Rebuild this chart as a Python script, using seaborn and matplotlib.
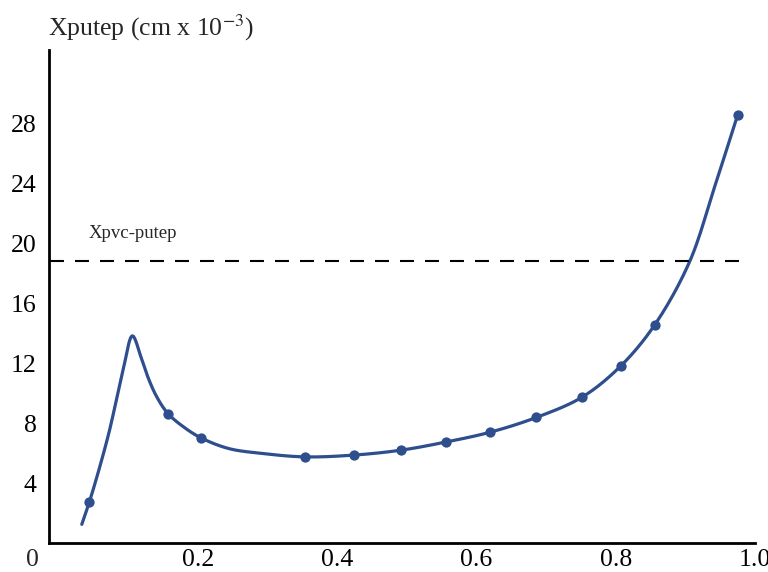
import numpy as np
import pandas as pd
import seaborn as sns
import matplotlib.pyplot as plt

# marker points
marker_x = [0.044, 0.157, 0.204, 0.354, 0.424, 0.492, 0.556, 0.620, 0.686, 0.752, 0.807, 0.856, 0.975]
marker_y = [2.73, 8.66, 7.05, 5.77, 5.89, 6.22, 6.76, 7.42, 8.40, 9.76, 11.82, 14.57, 28.55]

# traced points of the smooth curve (markers + points in between)
curve_x = [0.0333, 0.044, 0.0714, 0.093, 0.106, 0.119, 0.129, 0.141,
           0.157, 0.180, 0.204, 0.244, 0.292, 0.354, 0.424, 0.492, 0.556, 0.620, 0.686, 0.752,
           0.807, 0.856, 0.906, 0.942, 0.975]
curve_y = [1.27, 2.73, 7.22, 11.67, 13.84, 12.33, 11.0, 9.77,
           8.66, 7.75, 7.05, 6.33, 6.0, 5.77, 5.89, 6.22, 6.76, 7.42, 8.40, 9.76,
           11.82, 14.57, 18.77, 23.77, 28.55]

hline_y = 18.85
hline_label = "Xpvc-putep"
y_ticks = [4, 8, 12, 16, 20, 24, 28]
x_ticks = [0.2, 0.4, 0.6, 0.8, 1.0]

XLIM = (-0.0138, 1.0)
YLIM = (0, 32.9)


def smooth_path(xs, ys, n=20):
    # centripetal catmull-rom through the traced points, only for drawing a smooth stroke
    sx, sy = 700.0 / (XLIM[1] - XLIM[0]), 493.0 / (YLIM[1] - YLIM[0])
    p = np.column_stack([np.asarray(xs) * sx, np.asarray(ys) * sy])
    p = np.vstack([2 * p[0] - p[1], p, 2 * p[-1] - p[-2]])
    out = []
    for i in range(1, len(p) - 2):
        p0, p1, p2, p3 = p[i - 1], p[i], p[i + 1], p[i + 2]
        t0 = 0.0
        t1 = t0 + np.linalg.norm(p1 - p0) ** 0.5
        t2 = t1 + np.linalg.norm(p2 - p1) ** 0.5
        t3 = t2 + np.linalg.norm(p3 - p2) ** 0.5
        t = np.linspace(t1, t2, n, endpoint=False)[:, None]
        a1 = (t1 - t) / (t1 - t0) * p0 + (t - t0) / (t1 - t0) * p1
        a2 = (t2 - t) / (t2 - t1) * p1 + (t - t1) / (t2 - t1) * p2
        a3 = (t3 - t) / (t3 - t2) * p2 + (t - t2) / (t3 - t2) * p3
        b1 = (t2 - t) / (t2 - t0) * a1 + (t - t0) / (t2 - t0) * a2
        b2 = (t3 - t) / (t3 - t1) * a2 + (t - t1) / (t3 - t1) * a3
        out.append((t2 - t) / (t2 - t1) * b1 + (t - t1) / (t2 - t1) * b2)
    out.append(p[-2][None, :])
    out = np.vstack(out)
    return out[:, 0] / sx, out[:, 1] / sy


sns.set_style("white")
plt.rcParams['font.family'] = ['Liberation Serif', 'DejaVu Serif']
plt.rcParams['mathtext.fontset'] = 'stix'

color = "#2f4e8e"

fig = plt.figure(figsize=(7.68, 5.72), dpi=100)
ax = fig.add_axes([0.0638, 0.050, 0.9192, 0.8624])

cx, cy = smooth_path(curve_x, curve_y)
curve = pd.DataFrame({"x": cx, "y": cy})
pts = pd.DataFrame({"x": marker_x, "y": marker_y})

sns.lineplot(data=curve, x="x", y="y", ax=ax, color=color, linewidth=2.3, estimator=None, sort=False)
sns.scatterplot(data=pts, x="x", y="y", ax=ax, color=color, s=55, edgecolor=color, linewidth=0, zorder=3)

ax.hlines(hline_y, -0.012, 0.985, colors="black", linewidth=1.5, linestyles=(0, (6.7, 5.3)))
ax.text(0.043, 20.7, hline_label, fontsize=13.5, ha="left", va="center")

ax.set_xlim(*XLIM)
ax.set_ylim(*YLIM)
ax.set_xticks(x_ticks)
ax.set_xticklabels(["0.2", "0.4", "0.6", "0.8", "1.0"])
ax.set_yticks(y_ticks)
ax.set_yticklabels([str(v) for v in y_ticks])
ax.tick_params(axis="both", direction="in", length=11, width=1.5, labelsize=18.5, colors="black")
ax.tick_params(axis="x", pad=4)
ax.tick_params(axis="y", pad=9)
ax.set_xlabel("")
ax.set_ylabel("")

for s in ["top", "right"]:
    ax.spines[s].set_visible(False)
for s in ["left", "bottom"]:
    ax.spines[s].set_linewidth(2)
    ax.spines[s].set_color("black")

ax.text(-0.037, -0.011, "0", transform=ax.get_xaxis_transform(), fontsize=18.5, ha="center", va="top")
fig.text(0.0625, 0.951, r"Xputep (cm x 10$^{-3}$)", fontsize=18.5, ha="left", va="center")

fig.savefig("out.png", dpi=100)
